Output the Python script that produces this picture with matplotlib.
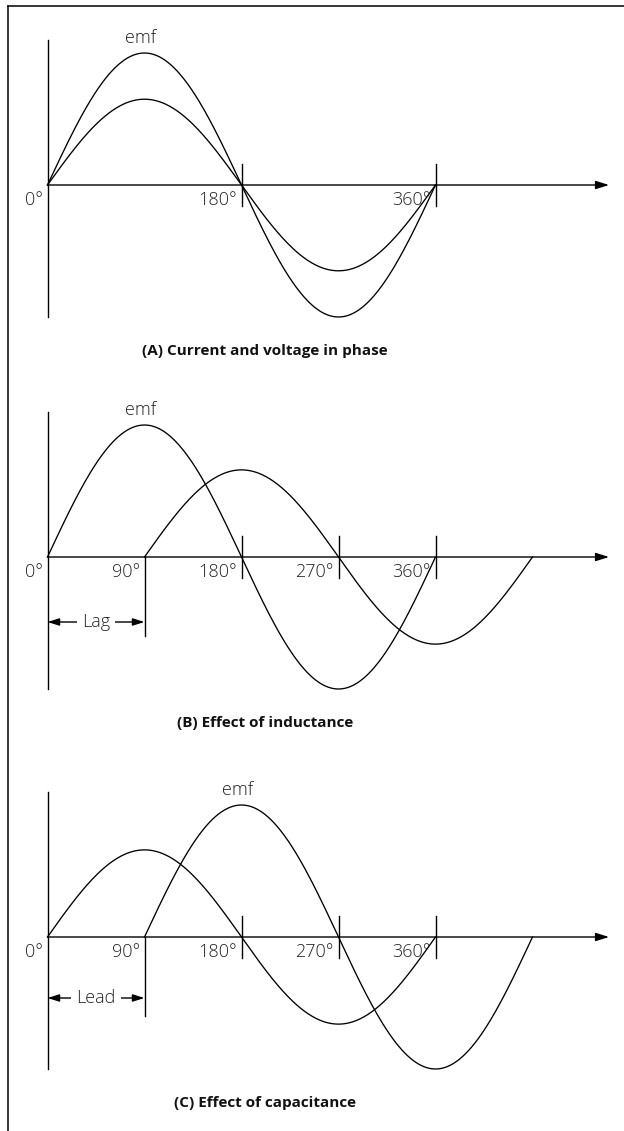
import numpy as np
import matplotlib
matplotlib.use("Agg")
import matplotlib.pyplot as plt
from matplotlib.lines import Line2D

plt.rcParams['font.family'] = ['Open Sans', 'DejaVu Sans']

# phase angles marked on each panel (degrees)
ticks_a = [180, 360]
ticks_bc = [90, 180, 270, 360]
tick_text = {0: "0°", 90: "90°", 180: "180°", 270: "270°", 360: "360°"}

# peak values, emf normalised to 1
emf_amp = 1.0
current_amp = [0.65, 0.66, 0.66]

# where each wave starts (degrees): emf, current
emf_start = [0, 0, 90]
current_start = [0, 90, 0]

titles = ["(A) Current and voltage in phase",
          "(B) Effect of inductance",
          "(C) Effect of capacitance"]
shift_text = [None, "Lag", "Lead"]

W, H = 624, 1131
fig = plt.figure(figsize=(W / 100, H / 100), dpi=100)
fig.patch.set_facecolor("white")

# frame round the figure (top and left edges)
fig.add_artist(Line2D([7.5 / W, 7.5 / W], [0, 1 - 5.5 / H], transform=fig.transFigure, color="black", lw=1.1))
fig.add_artist(Line2D([7.5 / W, 1], [1 - 5.5 / H, 1 - 5.5 / H], transform=fig.transFigure, color="black", lw=1.1))

dpp = 90 / 97.0          # degrees per pixel
ppu = 132.0              # pixels per unit amplitude
x0 = 47.5                # pixel column of 0 degrees
base_px = [185, 557, 937]
band = 377
text_col = "#222222"
lw = 1.0
fs = 13

def sine(start, amp):
    th = np.linspace(start, start + 360, 400)
    return th, amp * np.sin(np.radians(th - start))

for i in range(3):
    top = base_px[i] - 185
    ax = fig.add_axes([0, 1 - (top + band) / H, 1, band / H])
    ax.set_xlim(-x0 * dpp, (W - x0) * dpp)
    ax.set_ylim(-(band - 185) / ppu, 185 / ppu)
    ax.axis("off")

    # vertical axis
    ax.plot([0, 0], [-1.0, 1.1], color="black", lw=lw)
    # phase axis with arrow
    ax.annotate("", xy=(521, 0), xytext=(0, 0),
                arrowprops=dict(arrowstyle="-|>,head_length=0.8,head_width=0.25",
                                color="black", lw=lw, shrinkA=0, shrinkB=0))

    ticks = ticks_a if i == 0 else ticks_bc
    for t in ticks:
        if t == 90:
            ax.plot([t, t], [0, -0.6], color="black", lw=lw)
        else:
            ax.plot([t, t], [-0.16, 0.16], color="black", lw=lw)
    for t in [0] + ticks:
        ax.annotate(tick_text[t], (t, 0), xytext=(-3.2, -11), textcoords="offset points",
                    ha="right", va="center", fontsize=fs, fontweight="light", color=text_col)

    # waves
    th, y = sine(emf_start[i], emf_amp)
    ax.plot(th, y, color="black", lw=0.95)
    th, y = sine(current_start[i], current_amp[i])
    ax.plot(th, y, color="black", lw=0.95)

    ax.annotate("emf", (emf_start[i] + 90, emf_amp), xytext=(-2.5, 11), textcoords="offset points",
                ha="center", va="center", fontsize=fs, fontweight="light", color=text_col)

    if shift_text[i]:
        ys = -(65.0 if i == 1 else 61.0) / ppu
        ax.annotate("", xy=(0, ys), xytext=(90, ys),
                    arrowprops=dict(arrowstyle="<|-|>,head_length=0.7,head_width=0.22",
                                    color="black", lw=lw, shrinkA=0, shrinkB=0))
        ax.text(45, ys, shift_text[i], ha="center", va="center", fontsize=fs, fontweight="light",
                color=text_col, bbox=dict(facecolor="white", edgecolor="none", pad=3.5))

    fig.text(265 / W, 1 - (base_px[i] + 166) / H, titles[i], ha="center", va="center",
             fontsize=11, fontweight="bold", color="#111111")

fig.savefig("out.png", dpi=100, facecolor="white")
